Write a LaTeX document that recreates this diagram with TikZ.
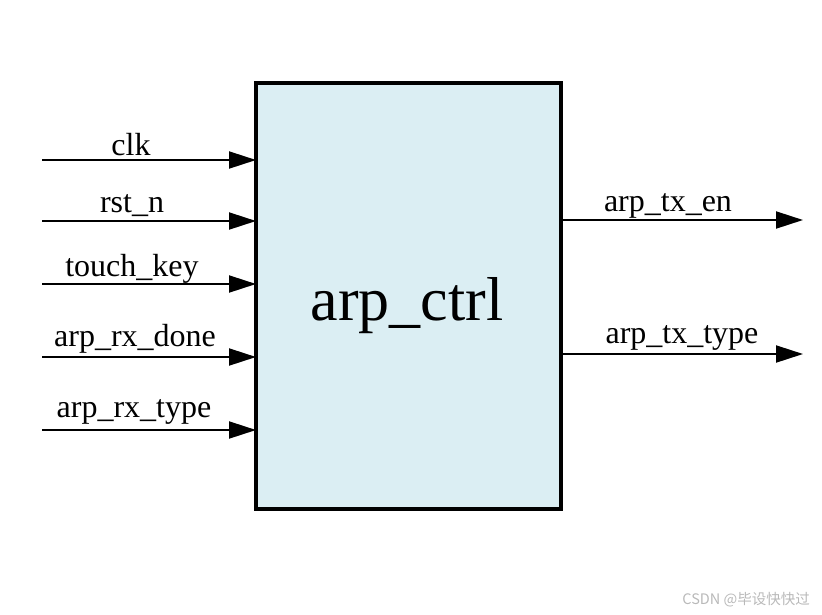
\documentclass[tikz,border=0pt]{standalone}
\usepackage{fontspec}
\setmainfont{Liberation Serif}
\newfontfamily\cjkfont{Noto Sans CJK SC}
\usetikzlibrary{arrows.meta}
\definecolor{boxfill}{RGB}{219,238,243}
\definecolor{wmgrey}{RGB}{185,185,185}
\tikzset{
  sig/.style={line width=2pt, -{Triangle[length=27pt,width=17pt]}},
  sigtext/.style={anchor=base, inner sep=0pt, font=\fontsize{32}{36}\selectfont},
  modbox/.style={draw=black, line width=4pt, fill=boxfill, rectangle, inner sep=0pt,
     outer sep=0pt, minimum width=305pt, minimum height=426pt}
}
\begin{document}
\begin{tikzpicture}[x=1pt,y=-1pt]
\useasboundingbox (0,0) rectangle (822,614);
\node[modbox] (ctrl) at (408.5,296) {};
\node[anchor=base, inner sep=0pt, font=\fontsize{62}{70}\selectfont] (title) at (407,320) {arp\_ctrl};
% inputs
\coordinate (i1) at (42,160);
\coordinate (i2) at (42,221);
\coordinate (i3) at (42,284);
\coordinate (i4) at (42,357);
\coordinate (i5) at (42,430);
\draw[sig] (i1) -- (i1 -| ctrl.west);
\draw[sig] (i2) -- (i2 -| ctrl.west);
\draw[sig] (i3) -- (i3 -| ctrl.west);
\draw[sig] (i4) -- (i4 -| ctrl.west);
\draw[sig] (i5) -- (i5 -| ctrl.west);
\node[sigtext] (l1) at (131,155) {clk};
\node[sigtext] (l2) at (132,212) {rst\_n};
\node[sigtext] (l3) at (132,276.5) {touch\_key};
\node[sigtext] (l4) at (135,346) {arp\_rx\_done};
\node[sigtext] (l5) at (134,417) {arp\_rx\_type};
% outputs
\coordinate (o1) at (803,220);
\coordinate (o2) at (803,354);
\draw[sig] (o1 -| ctrl.east) -- (o1);
\draw[sig] (o2 -| ctrl.east) -- (o2);
\node[sigtext] (r1) at (668,211.5) {arp\_tx\_en};
\node[sigtext] (r2) at (682,343.5) {arp\_tx\_type};
% watermark
\node[anchor=base east, inner sep=0pt, text=wmgrey, font=\cjkfont\fontsize{14.5}{16}\selectfont] (wm) at (810,604) {CSDN @毕设快快过};
\end{tikzpicture}
\end{document}
